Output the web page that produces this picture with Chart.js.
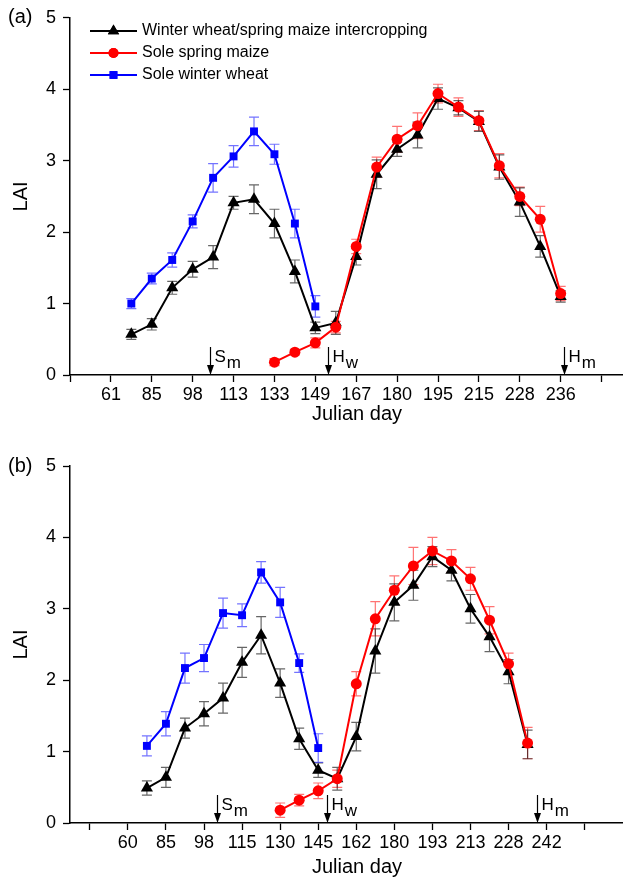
<!DOCTYPE html>
<html><head><meta charset="utf-8">
<script src="https://cdn.jsdelivr.net/npm/chart.js@4/dist/chart.umd.min.js"></script>
<style>
html,body{margin:0;padding:0;background:#fff;}
#wrap{position:relative;width:629px;height:881px;background:#fff;}
canvas{position:absolute;left:0;}
</style></head><body>
<div id="wrap">
<canvas id="ca" width="629" height="440" style="top:0"></canvas>
<canvas id="cb" width="629" height="441" style="top:440px"></canvas>
</div>
<script>
// ---------- data ----------
const seriesNames = ['Winter wheat/spring maize intercropping', 'Sole spring maize', 'Sole winter wheat'];

// Panel (a)
const tickLabelsA = ['', '61', '85', '98', '113', '133', '149', '167', '180', '195', '215', '228', '236', ''];
const interPosA = [1.5, 2, 2.5, 3, 3.5, 4, 4.5, 5, 5.5, 6, 6.5, 7, 7.5, 8, 8.5, 9, 9.5, 10, 10.5, 11, 11.5, 12];
const interLaiA = [0.57, 0.71, 1.22, 1.48, 1.65, 2.41, 2.46, 2.12, 1.45, 0.66, 0.73, 1.66, 2.81, 3.16, 3.36, 3.87, 3.74, 3.55, 2.91, 2.42, 1.80, 1.10];
const interErrA = [0.07, 0.08, 0.09, 0.11, 0.16, 0.09, 0.2, 0.2, 0.16, 0.08, 0.16, 0.12, 0.2, 0.1, 0.18, 0.15, 0.1, 0.14, 0.17, 0.2, 0.15, 0.08];
const maizePosA = [5, 5.5, 6, 6.5, 7, 7.5, 8, 8.5, 9, 9.5, 10, 10.5, 11, 11.5, 12];
const maizeLaiA = [0.18, 0.32, 0.45, 0.67, 1.80, 2.91, 3.30, 3.49, 3.94, 3.75, 3.56, 2.93, 2.50, 2.18, 1.14];
const maizeErrA = [0.05, 0.04, 0.07, 0.08, 0.1, 0.14, 0.18, 0.18, 0.13, 0.13, 0.14, 0.17, 0.13, 0.18, 0.1];
const wheatPosA = [1.5, 2, 2.5, 3, 3.5, 4, 4.5, 5, 5.5, 6];
const wheatLaiA = [1.00, 1.35, 1.61, 2.15, 2.76, 3.06, 3.41, 3.09, 2.12, 0.96];
const wheatErrA = [0.07, 0.075, 0.1, 0.09, 0.2, 0.15, 0.2, 0.14, 0.2, 0.15];
const arrowPosA = [3.43, 6.3, 12.08];

// Panel (b)
const tickLabelsB = ['', '60', '85', '98', '115', '130', '145', '162', '180', '193', '213', '228', '242', ''];
const interPosB = [1.5, 2, 2.5, 3, 3.5, 4, 4.5, 5, 5.5, 6, 6.5, 7, 7.5, 8, 8.5, 9, 9.5, 10, 10.5, 11, 11.5];
const interLaiB = [0.49, 0.64, 1.33, 1.53, 1.75, 2.25, 2.63, 1.96, 1.18, 0.74, 0.62, 1.21, 2.41, 3.09, 3.33, 3.73, 3.54, 3.00, 2.61, 2.12, 1.10];
const interErrB = [0.1, 0.14, 0.14, 0.17, 0.21, 0.21, 0.26, 0.2, 0.15, 0.1, 0.16, 0.2, 0.31, 0.26, 0.21, 0.14, 0.15, 0.2, 0.21, 0.17, 0.2];
const maizePosB = [5, 5.5, 6, 6.5, 7, 7.5, 8, 8.5, 9, 9.5, 10, 10.5, 11, 11.5];
const maizeLaiB = [0.18, 0.32, 0.45, 0.62, 1.95, 2.86, 3.26, 3.60, 3.81, 3.67, 3.42, 2.84, 2.23, 1.12];
const maizeErrB = [0.1, 0.08, 0.11, 0.12, 0.17, 0.24, 0.2, 0.26, 0.19, 0.16, 0.16, 0.19, 0.15, 0.22];
const wheatPosB = [1.5, 2, 2.5, 3, 3.5, 4, 4.5, 5, 5.5, 6];
const wheatLaiB = [1.08, 1.39, 2.17, 2.31, 2.94, 2.91, 3.51, 3.09, 2.24, 1.05];
const wheatErrB = [0.14, 0.17, 0.21, 0.19, 0.21, 0.16, 0.15, 0.21, 0.13, 0.2];
const arrowPosB = [3.33, 6.23, 11.74];

const arrowMain = ['S', 'H', 'H'];
const arrowSub = ['m', 'w', 'm'];
const yTicks = [0, 1, 2, 3, 4, 5];

// ---------- styling ----------
const FONT = "'Liberation Sans', Arial, Helvetica, sans-serif";
Chart.defaults.font.family = FONT;
Chart.defaults.color = '#000';

const colBlack = '#000000', colRed = '#ff0000', colBlue = '#0000ff';
const errBlack = 'rgba(0,0,0,0.6)', errRed = 'rgba(255,0,0,0.55)', errBlue = 'rgba(0,0,255,0.55)';

function pts(xs, ys) { return xs.map((x, i) => ({ x: x, y: ys[i] })); }

const errorBarPlugin = {
  id: 'errorBars',
  beforeDatasetsDraw(chart) {
    const ctx = chart.ctx;
    const ys = chart.scales.y;
    chart.data.datasets.forEach((ds, di) => {
      const meta = chart.getDatasetMeta(di);
      if (!ds.errors) return;
      ctx.save();
      ctx.strokeStyle = ds.errorColor;
      ctx.lineWidth = 1.2;
      meta.data.forEach((el, i) => {
        const e = ds.errors[i];
        const v = ds.data[i].y;
        const x = el.x;
        const yt = ys.getPixelForValue(v + e);
        const yb = ys.getPixelForValue(v - e);
        ctx.beginPath();
        ctx.moveTo(x, yt); ctx.lineTo(x, yb);
        ctx.moveTo(x - 5, yt); ctx.lineTo(x + 5, yt);
        ctx.moveTo(x - 5, yb); ctx.lineTo(x + 5, yb);
        ctx.stroke();
      });
      ctx.restore();
    });
  }
};

const decorPlugin = {
  id: 'decor',
  afterDraw(chart, args, opts) {
    const ctx = chart.ctx;
    const xs = chart.scales.x, ys = chart.scales.y;
    const y0 = ys.getPixelForValue(0);
    ctx.save();
    // panel label
    ctx.fillStyle = '#000';
    ctx.font = '20px ' + FONT;
    ctx.textBaseline = 'middle';
    ctx.textAlign = 'left';
    ctx.fillText(opts.panel, 8, ys.getPixelForValue(5));
    // x axis title
    ctx.textAlign = 'center';
    ctx.fillText('Julian day', 357, opts.titleY);
    ctx.textAlign = 'left';
    // arrows
    opts.arrows.forEach((p, i) => {
      const x = Math.round(xs.getPixelForValue(p)) + 0.5;
      ctx.strokeStyle = '#000';
      ctx.lineWidth = 1.2;
      ctx.beginPath();
      ctx.moveTo(x, y0 - 28); ctx.lineTo(x, y0 - 8);
      ctx.stroke();
      ctx.beginPath();
      ctx.moveTo(x - 3.5, y0 - 10); ctx.lineTo(x + 3.5, y0 - 10); ctx.lineTo(x, y0); ctx.closePath();
      ctx.fillStyle = '#000';
      ctx.fill();
      ctx.font = '17px ' + FONT;
      ctx.textBaseline = 'alphabetic';
      ctx.fillText(arrowMain[i], x + 4, y0 - 13);
      const w = ctx.measureText(arrowMain[i]).width;
      ctx.fillText(arrowSub[i], x + 5 + w, y0 - 7);
    });
    // legend
    if (opts.legend) {
      const rows = [
        { name: seriesNames[0], color: colBlack, style: 'triangle', r: 6.5 },
        { name: seriesNames[1], color: colRed, style: 'circle', r: 5 },
        { name: seriesNames[2], color: colBlue, style: 'rect', r: 5.5 }
      ];
      rows.forEach((r, i) => {
        const y = 31 + i * 22;
        ctx.strokeStyle = r.color;
        ctx.lineWidth = 2;
        ctx.beginPath(); ctx.moveTo(90, y); ctx.lineTo(137, y); ctx.stroke();
        ctx.fillStyle = r.color;
        Chart.helpers.drawPoint(ctx, { pointStyle: r.style, radius: r.r, borderWidth: 0 }, 113.5, y);
        ctx.fill();
        ctx.fillStyle = '#000';
        ctx.font = '16px ' + FONT;
        ctx.textBaseline = 'middle';
        ctx.textAlign = 'left';
        ctx.fillText(r.name, 142, y);
      });
    }
    ctx.restore();
  }
};

function makePanel(id, cfg) {
  const H = cfg.height;
  const ds = (label, xs, ys, errs, color, ecol, style, r, order) => ({
    label: label, data: pts(xs, ys), errors: errs, errorColor: ecol,
    borderColor: color, backgroundColor: color, borderWidth: 2,
    pointStyle: style, pointRadius: r, pointHoverRadius: r, pointBorderWidth: 0,
    pointBackgroundColor: color, tension: 0, showLine: true, order: order, clip: false
  });
  return new Chart(document.getElementById(id), {
    type: 'line',
    data: {
      datasets: [
        ds(seriesNames[1], cfg.maizePos, cfg.maizeLai, cfg.maizeErr, colRed, errRed, 'circle', 5.5, 0),
        ds(seriesNames[0], cfg.interPos, cfg.interLai, cfg.interErr, colBlack, errBlack, 'triangle', 7, 1),
        ds(seriesNames[2], cfg.wheatPos, cfg.wheatLai, cfg.wheatErr, colBlue, errBlue, 'rect', 5.6, 2)
      ]
    },
    options: {
      responsive: false,
      animation: false,
      events: [],
      layout: { padding: { top: cfg.top, right: 0, left: 0, bottom: 0 } },
      plugins: {
        legend: { display: false },
        tooltip: { enabled: false },
        decor: { panel: cfg.panel, arrows: cfg.arrows, legend: cfg.legend, titleY: cfg.titleY }
      },
      scales: {
        x: {
          type: 'linear', min: cfg.xmin, max: cfg.xmax,
          afterFit(s) { s.height = H - cfg.bottom; },
          ticks: {
            stepSize: 1, autoSkip: false, maxRotation: 0, includeBounds: false, padding: 2,
            font: { size: 18 }, color: '#000',
            callback: (v) => (Number.isInteger(v) && cfg.labels[v] !== undefined) ? cfg.labels[v] : ''
          },
          grid: { drawOnChartArea: false, drawTicks: true, tickLength: 7, color: '#000', tickWidth: 1.3 },
          border: { display: true, color: '#000', width: 1.5 },
          title: { display: false }
        },
        y: {
          type: 'linear', min: 0, max: 5,
          afterFit(s) { s.width = 70; },
          afterBuildTicks(s) { s.ticks = yTicks.map(v => ({ value: v })); },
          ticks: { stepSize: 1, padding: 7, font: { size: 18 }, color: '#000' },
          grid: { drawOnChartArea: false, drawTicks: true, tickLength: 7, color: '#000', tickWidth: 1.3 },
          border: { display: true, color: '#000', width: 1.5 },
          title: { display: true, text: 'LAI', font: { size: 20 }, color: '#000', padding: { top: 9, bottom: 0 } }
        }
      }
    },
    plugins: [errorBarPlugin, decorPlugin]
  });
}

makePanel('ca', {
  height: 440, top: 17, bottom: 375, xmin: 0, xmax: 13.5, titleY: 414,
  labels: tickLabelsA, panel: '(a)', arrows: arrowPosA, legend: true,
  interPos: interPosA, interLai: interLaiA, interErr: interErrA,
  maizePos: maizePosA, maizeLai: maizeLaiA, maizeErr: maizeErrA,
  wheatPos: wheatPosA, wheatLai: wheatLaiA, wheatErr: wheatErrA
});
makePanel('cb', {
  height: 441, top: 26, bottom: 383, xmin: -0.52, xmax: 13.98, titleY: 427,
  labels: tickLabelsB, panel: '(b)', arrows: arrowPosB, legend: false,
  interPos: interPosB, interLai: interLaiB, interErr: interErrB,
  maizePos: maizePosB, maizeLai: maizeLaiB, maizeErr: maizeErrB,
  wheatPos: wheatPosB, wheatLai: wheatLaiB, wheatErr: wheatErrB
});
</script>
</body></html>
